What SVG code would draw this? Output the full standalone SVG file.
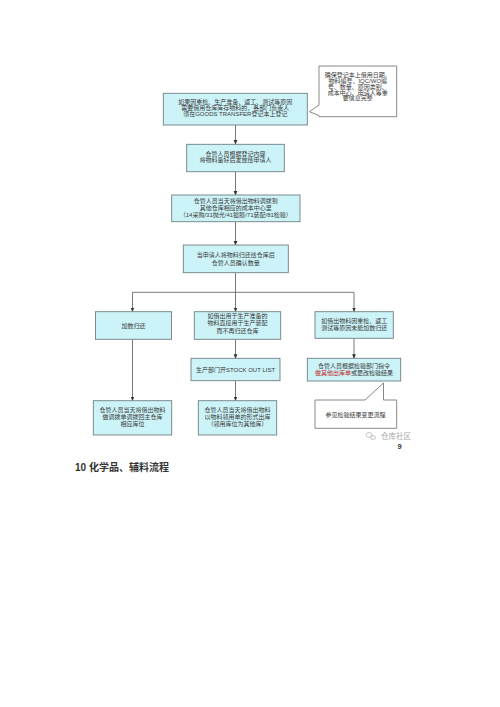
<svg xmlns="http://www.w3.org/2000/svg" width="500" height="707" viewBox="0 0 500 707">
<defs>
<style>
.box{fill:#ccf3f7;stroke:#6f7f82;stroke-width:0.9}
.call{fill:#ffffff;stroke:#7a7a7a;stroke-width:0.9}
.t{font-family:"Liberation Sans","Noto Sans CJK SC",sans-serif;font-size:6px;fill:#3a3a3a;text-anchor:middle}
.ln{fill:none;stroke:#6a6a6a;stroke-width:0.9}
.h{font-family:"Liberation Sans","Noto Sans CJK SC",sans-serif;font-size:10px;font-weight:bold;fill:#333}
</style>
<marker id="ah" markerWidth="5" markerHeight="5" refX="4" refY="2.5" orient="auto" markerUnits="userSpaceOnUse">
<path d="M0,0.6 L4.5,2.5 L0,4.4 Z" fill="#333"/>
</marker>
</defs>
<rect width="500" height="707" fill="#ffffff"/>

<g id="connectors">
<line class="ln" x1="235.5" y1="125" x2="235.5" y2="144" marker-end="url(#ah)"/>
<line class="ln" x1="235.5" y1="171.7" x2="235.5" y2="195" marker-end="url(#ah)"/>
<line class="ln" x1="235.5" y1="221.7" x2="235.5" y2="245" marker-end="url(#ah)"/>
<polyline class="ln" points="235.5,272.7 235.5,292.3"/>
<polyline class="ln" points="132.5,292.3 354,292.3"/>
<line class="ln" x1="132.5" y1="292.3" x2="132.5" y2="311.5" marker-end="url(#ah)"/>
<line class="ln" x1="235.5" y1="292.3" x2="235.5" y2="311.5" marker-end="url(#ah)"/>
<line class="ln" x1="354" y1="292.3" x2="354" y2="311.5" marker-end="url(#ah)"/>
<line class="ln" x1="132.5" y1="339.3" x2="132.5" y2="400.5" marker-end="url(#ah)"/>
<line class="ln" x1="235.5" y1="339.3" x2="235.5" y2="358.2" marker-end="url(#ah)"/>
<line class="ln" x1="235.5" y1="380.7" x2="235.5" y2="400.5" marker-end="url(#ah)"/>
<line class="ln" x1="354" y1="338.3" x2="354" y2="358.2" marker-end="url(#ah)"/>
</g>

<g id="n1">
<rect class="box" x="163.3" y="93.3" width="144" height="31.7"/>
<text class="t" x="235.3" y="103.8">如果因重检、生产准备、返工、测试等原因</text>
<text class="t" x="235.3" y="109.8">需要借用仓库库存物料的，各部门负责人</text>
<text class="t" x="235.3" y="115.8">须在GOODS TRANSFER登记本上登记</text>
</g>

<g id="callout1">
<path class="call" d="M319,66 H396.7 V116.7 H319 V115.5 L309.5,111.7 L319,105 Z"/>
<text class="t" x="357.8" y="77.2">确保登记本上借用日期、</text>
<text class="t" x="357.8" y="83">物料编号、IQC/WO编</text>
<text class="t" x="357.8" y="88.8">号、数量、原因类别、</text>
<text class="t" x="357.8" y="94.6">成本中心、申请人等重</text>
<text class="t" x="357.8" y="100.4">要信息完整</text>
</g>

<g id="n2">
<rect class="box" x="186.7" y="144.3" width="97.6" height="27.4"/>
<text class="t" x="235.5" y="155.5">仓管人员根据登记内容</text>
<text class="t" x="235.5" y="161.7">将物料备好后发放给申请人</text>
</g>

<g id="n3">
<rect class="box" x="171.7" y="195" width="128.3" height="26.7"/>
<text class="t" x="235.8" y="203">仓管人员当天将借出物料调拨到</text>
<text class="t" x="235.8" y="209.8">其他仓库相应的成本中心里</text>
<text class="t" x="235.8" y="216.8">（14采购/31抛光/41镀膜/71装配/81检验）</text>
</g>

<g id="n4">
<rect class="box" x="183.3" y="245" width="105" height="27.7"/>
<text class="t" x="235.8" y="257.2">当申请人将物料归还给仓库后</text>
<text class="t" x="235.8" y="264.6">仓管人员确认数量</text>
</g>

<g id="n5">
<rect class="box" x="95.5" y="311.7" width="76" height="27.6"/>
<text class="t" x="133.5" y="327.6">加数归还</text>
</g>

<g id="n6">
<rect class="box" x="194.3" y="311.7" width="86.4" height="27.6"/>
<text class="t" x="237.5" y="318">如借出用于生产准备的</text>
<text class="t" x="237.5" y="325.4">物料直接用于生产装配</text>
<text class="t" x="237.5" y="332.8">而不再归还仓库</text>
</g>

<g id="n7">
<rect class="box" x="315" y="311.7" width="78.3" height="26.6"/>
<text class="t" x="354.2" y="322.8">如借出物料因重检、返工</text>
<text class="t" x="354.2" y="330.4">测试等原因未能加数归还</text>
</g>

<g id="n8">
<rect class="box" x="191" y="358.3" width="89" height="22.4"/>
<text class="t" x="235.5" y="371.6">生产部门开STOCK OUT LIST</text>
</g>

<g id="n9">
<rect class="box" x="307.3" y="358.3" width="93.4" height="22.7"/>
<text class="t" x="354" y="367.8">仓管人员根据检验部门指令</text>
<text class="t" x="354" y="375.4"><tspan fill="#c0282d">做其他出库单</tspan>或更改检验结果</text>
</g>

<g id="n10">
<rect class="box" x="93.3" y="400.7" width="78.4" height="34.3"/>
<text class="t" x="132.5" y="412.4">仓管人员当天将借出物料</text>
<text class="t" x="132.5" y="419.4">做调拨单调拨回主仓库</text>
<text class="t" x="132.5" y="426.4">相应库位</text>
</g>

<g id="n11">
<rect class="box" x="198.3" y="400.7" width="78.4" height="34.3"/>
<text class="t" x="237.5" y="412.4">仓管人员当天将借出物料</text>
<text class="t" x="237.5" y="419.4">以物料领用单的形式出库</text>
<text class="t" x="237.5" y="426.4">（领用库位为其他库）</text>
</g>

<g id="callout2">
<path class="call" d="M315,400 H365 L383.5,383 V400 H396.7 V428.3 H315 Z"/>
<text class="t" x="355.5" y="417">参见检验结果变更流程</text>
</g>

<g id="watermark">
<ellipse cx="369" cy="435" rx="3" ry="2.4" fill="none" stroke="#b5b5b5" stroke-width="0.8"/>
<ellipse cx="373" cy="437.5" rx="2.4" ry="2" fill="none" stroke="#b5b5b5" stroke-width="0.8"/>
<text x="381" y="438.5" style="font-family:'Liberation Sans','Noto Sans CJK SC',sans-serif;font-size:7.5px;fill:#a8a8a8">仓库社区</text>
<text x="397.5" y="448.5" style="font-family:'Liberation Sans',sans-serif;font-size:7.5px;font-weight:bold;fill:#333">9</text>
</g>

<text class="h" x="75" y="471">10 化学品、辅料流程</text>
</svg>
